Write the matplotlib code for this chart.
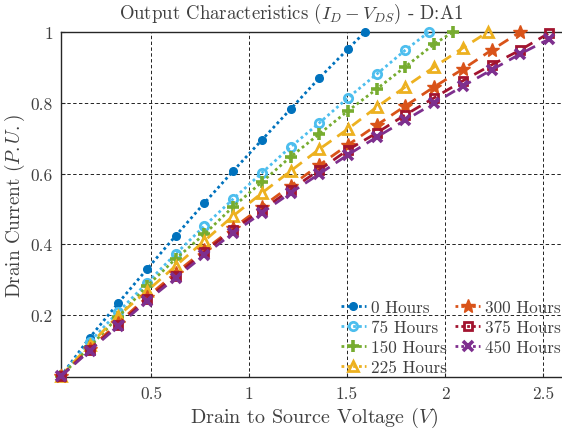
import matplotlib
matplotlib.use("Agg")
import matplotlib.pyplot as plt
from matplotlib.lines import Line2D

plt.rcParams['font.family'] = 'serif'
plt.rcParams['font.serif'] = ['cmr10', 'DejaVu Serif']
plt.rcParams['mathtext.fontset'] = 'cm'
plt.rcParams['axes.formatter.use_mathtext'] = True

# ---- data ----
x_grid = [0.040, 0.187, 0.333, 0.480, 0.626, 0.773, 0.919, 1.066, 1.212,
          1.359, 1.505, 1.652, 1.798, 1.945, 2.091, 2.238, 2.384, 2.531]

labels = ['0 Hours', '75 Hours', '150 Hours', '225 Hours',
          '300 Hours', '375 Hours', '450 Hours']

x_0 = x_grid[:11] + [1.592]
y_0 = [0.027, 0.136, 0.234, 0.330, 0.424, 0.517, 0.607, 0.695, 0.782, 0.870, 0.952, 1.0]

x_75 = x_grid[:13] + [1.918]
y_75 = [0.027, 0.124, 0.209, 0.291, 0.373, 0.452, 0.528, 0.602, 0.675, 0.743, 0.814,
        0.881, 0.949, 1.0]

x_150 = x_grid[:14] + [2.041]
y_150 = [0.027, 0.110, 0.195, 0.282, 0.359, 0.429, 0.506, 0.576, 0.647, 0.712, 0.777,
         0.839, 0.902, 0.966, 1.0]

x_225 = x_grid[:15] + [2.219]
y_225 = [0.027, 0.116, 0.198, 0.268, 0.339, 0.410, 0.480, 0.545, 0.607, 0.669, 0.726,
         0.788, 0.845, 0.901, 0.955, 1.0]

x_300 = x_grid[:17]
y_300 = [0.027, 0.105, 0.178, 0.251, 0.319, 0.384, 0.446, 0.506, 0.565, 0.624, 0.681,
         0.737, 0.791, 0.845, 0.895, 0.949, 1.0]

x_375 = x_grid[:18]
y_375 = [0.027, 0.102, 0.172, 0.246, 0.311, 0.379, 0.441, 0.497, 0.554, 0.610, 0.667,
         0.715, 0.766, 0.814, 0.862, 0.907, 0.949, 0.997]

x_450 = x_grid[:18]
y_450 = [0.027, 0.099, 0.169, 0.240, 0.305, 0.370, 0.432, 0.489, 0.545, 0.599, 0.653,
         0.703, 0.751, 0.799, 0.847, 0.893, 0.938, 0.980]

xs = [x_0, x_75, x_150, x_225, x_300, x_375, x_450]
ys = [y_0, y_75, y_150, y_225, y_300, y_375, y_450]

xticks = [0.5, 1.0, 1.5, 2.0, 2.5]
xtick_labels = ['0.5', '1', '1.5', '2', '2.5']
yticks = [0.2, 0.4, 0.6, 0.8, 1.0]
ytick_labels = ['0.2', '0.4', '0.6', '0.8', '1']

# ---- style ----
colors = ['#0072BD', '#4DBEEE', '#77AC30', '#EDB120', '#D95319', '#A2142F', '#7E2F8E']
markers = ['o', 'o', '+', '^', '*', 's', 'x']
filled = [True, False, True, False, True, False, True]
msizes = [5.5, 6, 8, 7, 10, 5.5, 7]
mews = [1.0, 2.0, 2.6, 2.0, 1.0, 2.0, 2.6]
dotted = (0, (1, 1.1))
dashed = (0, (4, 2.6))
lstyles = [dotted, dotted, dotted, dashed, dashed, dashed, dashed]

txt_color = '#404040'

fig = plt.figure(figsize=(5.62, 4.35), dpi=100)
ax = fig.add_axes([61 / 562, (435 - 378) / 435, 505.5 / 562, (378 - 33) / 435])

for i in range(len(xs)):
    ax.plot(xs[i], ys[i], color=colors[i], linestyle=lstyles[i], linewidth=2.0,
            marker=markers[i], markersize=msizes[i],
            markerfacecolor=colors[i] if filled[i] else 'none',
            markeredgecolor=colors[i], markeredgewidth=mews[i],
            clip_on=False, zorder=3 + i)

ax.set_xlim(0.041, 2.62)
ax.set_ylim(0.025, 1.0)
ax.set_xticks(xticks)
ax.set_xticklabels(xtick_labels)
ax.set_yticks(yticks)
ax.set_yticklabels(ytick_labels)
ax.tick_params(direction='in', length=3, width=0.8, colors='#262626',
               labelcolor=txt_color, labelsize=12.5, pad=6)
ax.grid(True, color='#222222', linestyle=(0, (3.5, 2.5)), linewidth=0.7)
for s in ax.spines.values():
    s.set_color('#262626')
    s.set_linewidth(1.0)

ax.set_xlabel('Drain to Source Voltage ($V$)', fontsize=14.5, color=txt_color, labelpad=3)
ax.set_ylabel('Drain Current ($P.U.$)', fontsize=13.8, color=txt_color)
ax.yaxis.set_label_coords(-0.067, 0.5)
fig.text(291 / 562, 1 - 14 / 435, 'Output Characteristics ($I_D - V_{DS}$) - D:A1',
         ha='center', va='center', fontsize=13.5, color=txt_color)

handles = []
for i in range(len(xs)):
    handles.append(Line2D([], [], color=colors[i], linestyle=dotted, linewidth=2.0,
                          marker=markers[i], markersize=msizes[i],
                          markerfacecolor=colors[i] if filled[i] else 'none',
                          markeredgecolor=colors[i], markeredgewidth=mews[i]))
leg = ax.legend(handles, labels, ncol=2, frameon=False, fontsize=12.3,
                loc='lower right',
                handlelength=1.45, handletextpad=0.3, columnspacing=0.5,
                labelspacing=0.27, borderaxespad=0.0, borderpad=0.0)
for t in leg.get_texts():
    t.set_color(txt_color)
leg.set_bbox_to_anchor((561 / 562, (435 - 376) / 435), transform=fig.transFigure)

fig.savefig('out.png', dpi=100)
